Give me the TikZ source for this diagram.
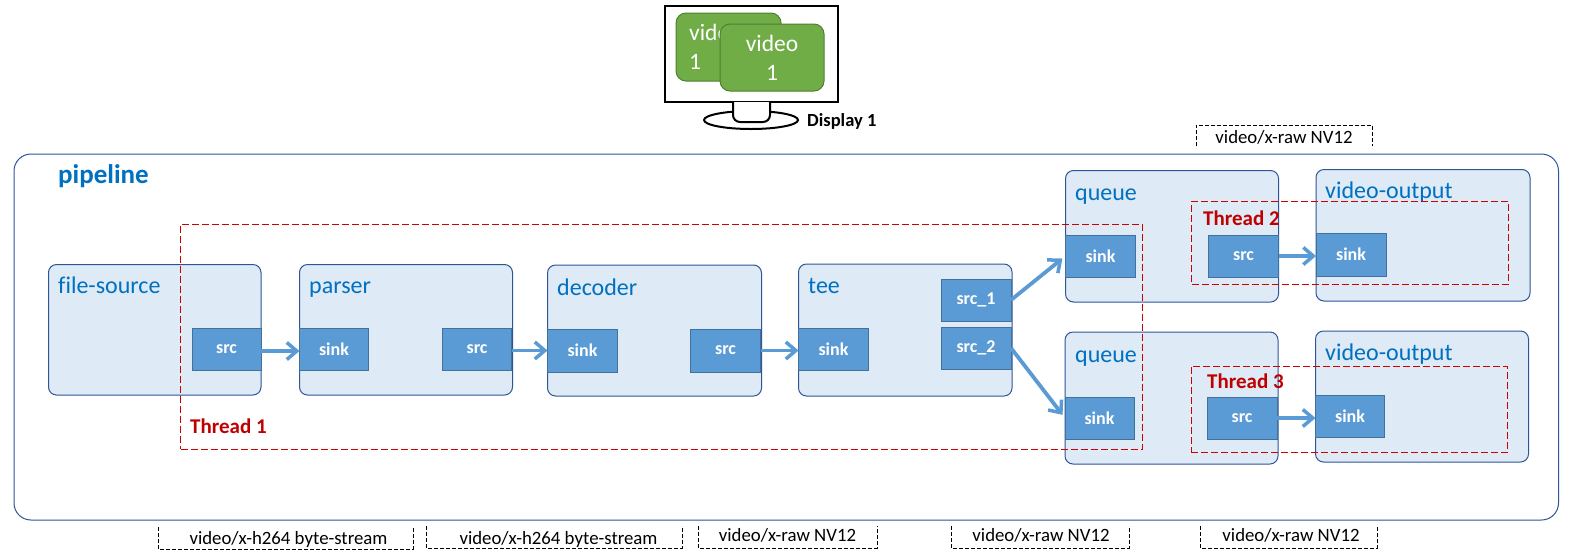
\documentclass[tikz,border=0pt]{standalone}
\usepackage{fontspec}
\setmainfont[Ligatures=CommonOff]{Carlito}
\usetikzlibrary{arrows.meta,shapes.geometric}
\definecolor{elemfill}{HTML}{DEEAF6}
\definecolor{elemline}{HTML}{2F5597}
\definecolor{portfill}{HTML}{5B9BD5}
\definecolor{portline}{HTML}{41719C}
\definecolor{txtblue}{HTML}{0070C0}
\definecolor{thrred}{HTML}{C00000}
\definecolor{dashred}{HTML}{D00000}
\definecolor{vidgreen}{HTML}{70AD47}
\definecolor{vidline}{HTML}{507E32}
\newcommand\fs[1]{\fontsize{#1}{#1}\selectfont}
\newcommand\rbox[7][]{\node[#6,#1,minimum width={#4-#2},minimum height={#5-#3}] (#7) at ({(#2+#4)/2},{(#3+#5)/2}) {};}
\newcommand\pbox[7]{\node[#6,minimum width={#4-#2},minimum height={#5-#3}] (#1) at ({(#2+#4)/2},{(#3+#5)/2}) {#7};}
\tikzset{
  elem/.style={draw=elemline,fill=elemfill,line width=1pt,rounded corners=8pt,inner sep=0pt,outer sep=0pt},
  pipe/.style={draw=elemline,line width=1pt,rounded corners=17pt,inner sep=0pt,outer sep=0pt},
  port/.style={draw=portline,fill=portfill,line width=1pt,inner sep=0pt,outer sep=0pt,text=white,font=\fs{18}\bfseries},
  thr/.style={draw=dashred,line width=1pt,dash pattern=on 7pt off 3pt,inner sep=0pt,outer sep=0pt},
  elabel/.style={anchor=base west,inner sep=0pt,text=txtblue,font=\fs{24}},
  tlabel/.style={anchor=base west,inner sep=0pt,text=thrred,font=\fs{21}\bfseries},
  flow/.style={draw=portfill,line width=3.8pt,-{Straight Barb[length=10pt,width=17pt,line width=3.5pt]}},
  caps/.style={draw=black,line width=.8pt,dash pattern=on 4pt off 2pt},
  capt/.style={inner sep=0pt,text=black,font=\fs{18.8}},
  video/.style={draw=vidline,fill=vidgreen,line width=1pt,rounded corners=10pt,inner sep=0pt,outer sep=0pt},
  vidtext/.style={inner sep=0pt,text=white,font=\fs{23.5}},
}
\begin{document}
\begin{tikzpicture}[x=1pt,y=-1pt]
\useasboundingbox[fill=white] (0,0) rectangle (1570,558);
% monitor
\pbox{monitor}{665}{6}{838}{102}{draw=black,line width=2.5pt,fill=white,inner sep=0pt}{}
\pbox{vidA}{676}{13}{781}{81}{video}{}
\node[vidtext,anchor=base west] (vidAa) at (689,40) {video};
\node[vidtext,anchor=base west] (vidAb) at (689,69) {1};
\pbox{vidB}{720}{24}{824}{91}{video}{}
\node[vidtext,anchor=base] (vidBa) at (772,51) {video};
\node[vidtext,anchor=base] (vidBb) at (772,80) {1};
\node[draw=black,line width=2pt,fill=white,ellipse,minimum width=94pt,minimum height=18pt,inner sep=0pt] (base) at (751,120) {};
\fill[white,draw=black,line width=2pt,rounded corners=7pt] (733,102) -- (733,122) -- (770,122) -- (770,102);
\node[anchor=base west,inner sep=0pt,font=\fs{18.5}\bfseries] (disp) at (807,126) {Display 1};
% caps top
\draw[caps] (1196,146) -- (1196,125) -- (1372,125) -- (1372,146);
\node[capt] (ctop) at (1284,137) {video/x-raw NV12};
% pipeline
\rbox{14}{154}{1558.5}{520}{pipe}{pipeline}
\node[elabel,font=\fs{27}\bfseries] (pipelabel) at (58,183) {pipeline};
% elements
\rbox{48.5}{264.5}{261}{395}{elem}{esrc}
\node[elabel] (l1) at (58,293) {file-source};
\rbox{299.5}{264.5}{512.5}{395}{elem}{epar}
\node[elabel] (l2) at (309,293) {parser};
\rbox{547.5}{265}{761.5}{396}{elem}{edec}
\node[elabel] (l3) at (557,295) {decoder};
\rbox{798.5}{264}{1012}{396}{elem}{etee}
\node[elabel] (l4) at (808,293) {tee};
\rbox{1065.5}{170.5}{1278.5}{302}{elem}{equeA}
\node[elabel] (l5) at (1075,200) {queue};
\rbox{1316}{169.5}{1530}{301}{elem}{eoutA}
\node[elabel] (l6) at (1325,198) {video-output};
\rbox{1065}{332}{1278}{464}{elem}{equeB}
\node[elabel] (l7) at (1075,362) {queue};
\rbox{1315.5}{331}{1528.5}{462}{elem}{eoutB}
\node[elabel] (l8) at (1325,360) {video-output};
% ports
\pbox{p1}{192}{328}{261}{370}{port}{src}
\pbox{p2}{299.5}{328}{368.5}{370}{port}{sink}
\pbox{p3}{442.5}{328}{511.5}{370}{port}{src}
\pbox{p4}{547.5}{329}{617.5}{372}{port}{sink}
\pbox{p5}{690.5}{329}{760.5}{372}{port}{src}
\pbox{p6}{798.5}{328}{868.5}{370}{port}{sink}
\pbox{p7}{941}{279}{1011}{321}{port}{src\_1}
\pbox{p8}{941}{327}{1011}{369}{port}{src\_2}
\pbox{p9}{1065.5}{235}{1135.5}{277}{port}{sink}
\pbox{p10}{1208.5}{235}{1278.5}{277}{port}{src}
\pbox{p11}{1316}{233}{1386}{276}{port}{sink}
\pbox{p12}{1065}{397}{1134}{439}{port}{sink}
\pbox{p13}{1207}{397}{1277}{439}{port}{src}
\pbox{p14}{1315.5}{395}{1384.5}{437}{port}{sink}
% threads
\rbox{180.5}{224}{1142}{449}{thr}{tA}
\rbox{1191.5}{201}{1508}{284}{thr}{tB}
\rbox{1191}{366}{1507.5}{452}{thr}{tC}
\node[tlabel] (t1) at (190,433) {Thread 1};
\node[tlabel] (t2) at (1203,225.5) {Thread 2};
\node[tlabel] (t3) at (1207,388) {Thread 3};
% flows
\draw[flow] ([yshift=-2pt]p1.east) -- ([yshift=-2pt]p2.west);
\draw[flow] (p3.east |- p4.west) -- (p4.west);
\draw[flow] (p5.east) -- (p6.west |- p5.east);
\draw[flow,shorten >=4pt] (p7.east) -- (p9.west);
\draw[flow,shorten >=4pt] (p8.east) -- (p12.west);
\draw[flow] (p10.east) -- (p11.west |- p10.east);
\draw[flow] (p13.east) -- (p14.west |- p13.east);
% caps bottom
\draw[caps] (158,527) -- (158,549) -- (413,549) -- (413,527);
\node[capt] (c1) at (288.5,539) {video/x-h264 byte-stream};
\draw[caps] (426,526) -- (426,548) -- (682,548) -- (682,526);
\node[capt] (c2) at (558.5,539) {video/x-h264 byte-stream};
\draw[caps] (698,526) -- (698,548) -- (877,548) -- (877,526);
\node[capt] (c3) at (787.5,535) {video/x-raw NV12};
\draw[caps] (951,526) -- (951,548) -- (1129,548) -- (1129,526);
\node[capt] (c4) at (1041,535) {video/x-raw NV12};
\draw[caps] (1200,526) -- (1200,548) -- (1377,548) -- (1377,526);
\node[capt] (c5) at (1291,535) {video/x-raw NV12};
\end{tikzpicture}
\end{document}
